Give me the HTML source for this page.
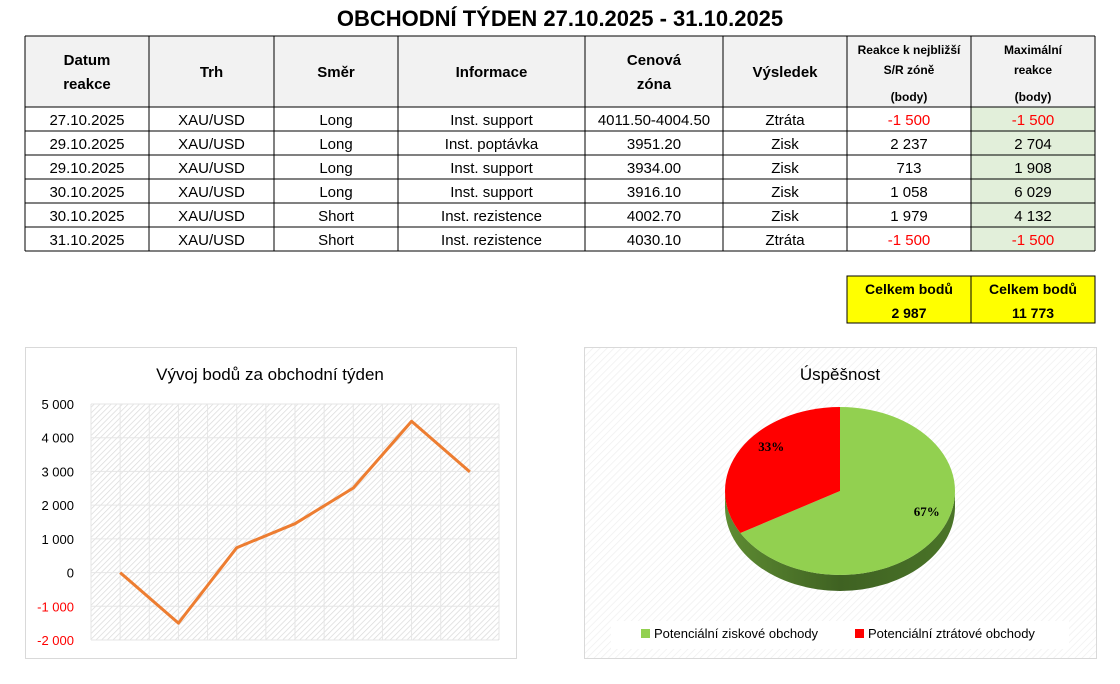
<!DOCTYPE html>
<html><head><meta charset="utf-8"><style>
body{margin:0;width:1120px;height:684px;background:#fff;overflow:hidden;font-family:"Liberation Sans",sans-serif}
svg{position:absolute;left:0;top:0}
</style></head><body>
<svg width="1120" height="684" xmlns="http://www.w3.org/2000/svg" font-family="Liberation Sans, sans-serif">
<defs>
<pattern id="hatch" width="4" height="4" patternUnits="userSpaceOnUse" patternTransform="rotate(45)">
<rect width="4" height="4" fill="#fff"/><line x1="0" y1="0" x2="0" y2="4" stroke="#d9d9d9" stroke-width="1.4"/></pattern>
<pattern id="hatch2" width="5" height="5" patternUnits="userSpaceOnUse" patternTransform="rotate(45)">
<rect width="5" height="5" fill="#fff"/><line x1="0" y1="0" x2="0" y2="5" stroke="#f0f0f0" stroke-width="1.5"/></pattern>
<linearGradient id="side" x1="0" x2="1"><stop offset="0" stop-color="#5e8c32"/><stop offset="0.5" stop-color="#3f6222"/><stop offset="1" stop-color="#4a7428"/></linearGradient>
</defs>
<text x="560" y="26" text-anchor="middle" font-size="22" font-weight="bold">OBCHODNÍ TÝDEN 27.10.2025 - 31.10.2025</text>
<g id="table"></g>
<g id="line"></g>
<g id="pie"></g>
</svg>
<script>
const NS='http://www.w3.org/2000/svg';
function mk(p,t,a,txt){const e=document.createElementNS(NS,t);for(const k in a)e.setAttribute(k,a[k]);if(txt!==undefined)e.textContent=txt;p.appendChild(e);return e;}
// ---- table ----
const T=document.getElementById('table');
const colX=[25,149,274,398,585,723,847,971,1095];
const rowY=[36,107,131,155,179,203,227,251];
const dates=['27.10.2025','29.10.2025','29.10.2025','30.10.2025','30.10.2025','31.10.2025'];
const dirs=['Long','Long','Long','Long','Short','Short'];
const infos=['Inst. support','Inst. poptávka','Inst. support','Inst. support','Inst. rezistence','Inst. rezistence'];
const zones=['4011.50-4004.50','3951.20','3934.00','3916.10','4002.70','4030.10'];
const results=['Ztráta','Zisk','Zisk','Zisk','Zisk','Ztráta'];
const reactions=[-1500,2237,713,1058,1979,-1500];
const maxReactions=[-1500,2704,1908,6029,4132,-1500];
function fmt(v){const s=Math.abs(v).toString().replace(/\B(?=(\d{3})+(?!\d))/g,' ');return (v<0?'-':'')+s;}
mk(T,'rect',{x:25,y:36,width:1070,height:71,fill:'#f2f2f2'});
mk(T,'rect',{x:971,y:107,width:124,height:144,fill:'#e2efda'});
const heads=[['Datum','reakce'],['Trh'],['Směr'],['Informace'],['Cenová','zóna'],['Výsledek']];
heads.forEach((h,i)=>{const cx=(colX[i]+colX[i+1])/2;
 if(h.length==1){const e=mk(T,'text',{x:cx,y:77,'text-anchor':'middle','font-size':15,'font-weight':'bold'},h[0]);}
 else{mk(T,'text',{x:cx,y:65,'text-anchor':'middle','font-size':15,'font-weight':'bold'},h[0]);mk(T,'text',{x:cx,y:89,'text-anchor':'middle','font-size':15,'font-weight':'bold'},h[1]);}
});
[[6,['Reakce k nejbližší','S/R zóně','(body)']],[7,['Maximální','reakce','(body)']]].forEach(([i,l])=>{const cx=(colX[i]+colX[i+1])/2;
 mk(T,'text',{x:cx,y:54,'text-anchor':'middle','font-size':12,'font-weight':'bold'},l[0]);
 mk(T,'text',{x:cx,y:74,'text-anchor':'middle','font-size':12,'font-weight':'bold'},l[1]);
 mk(T,'text',{x:cx,y:101,'text-anchor':'middle','font-size':12,'font-weight':'bold'},l[2]);});
for(let r=0;r<6;r++){const y=rowY[r+1]+18;
 const vals=[dates[r],'XAU/USD',dirs[r],infos[r],zones[r],results[r],fmt(reactions[r]),fmt(maxReactions[r])];
 vals.forEach((v,i)=>{const red=(i>=6&&String(v).startsWith('-'));
  const e=mk(T,'text',{x:(colX[i]+colX[i+1])/2,y:y,'text-anchor':'middle','font-size':15,fill:red?'#ff0000':'#000'},v);
  });}
rowY.forEach(y=>mk(T,'line',{x1:25,x2:1095,y1:y,y2:y,stroke:'#000','stroke-width':1}));
colX.forEach(x=>mk(T,'line',{x1:x,x2:x,y1:36,y2:251,stroke:'#000','stroke-width':1}));
// totals
mk(T,'rect',{x:847,y:276,width:248,height:47,fill:'#ffff00',stroke:'#000'});
mk(T,'line',{x1:971,x2:971,y1:276,y2:323,stroke:'#000'});
const tot1=reactions.reduce((a,b)=>a+b,0), tot2=maxReactions.reduce((a,b)=>a+b,0);
[[909,tot1],[1033,tot2]].forEach(([cx,v])=>{mk(T,'text',{x:cx,y:294,'text-anchor':'middle','font-size':14,'font-weight':'bold'},'Celkem bodů');
 const e=mk(T,'text',{x:cx,y:318,'text-anchor':'middle','font-size':14,'font-weight':'bold'},fmt(v));});
// ---- line chart ----
const L=document.getElementById('line');
const cumulative=[0,-1500,737,1450,2508,4487,2987];
const yTicks=[5000,4000,3000,2000,1000,0,-1000,-2000];
mk(L,'rect',{x:25.5,y:347.5,width:491,height:311,fill:'#fff',stroke:'#d9d9d9'});
mk(L,'text',{x:270,y:380,'text-anchor':'middle','font-size':17},'Vývoj bodů za obchodní týden');
const px0=91,px1=499,py0=404,py1=640,ymin=-2000,ymax=5000;
const Y=v=>py1-(v-ymin)/(ymax-ymin)*(py1-py0);
const ncol=14,cw=(px1-px0)/ncol;
const X=i=>px0+cw*(2*i+1);
mk(L,'rect',{x:px0,y:py0,width:px1-px0,height:py1-py0,fill:'url(#hatch)'});
for(let i=0;i<=ncol;i++)mk(L,'line',{x1:px0+i*cw,x2:px0+i*cw,y1:py0,y2:py1,stroke:'#e6e6e6'});
yTicks.forEach(t=>{mk(L,'line',{x1:px0,x2:px1,y1:Y(t),y2:Y(t),stroke:'#e6e6e6'});
 const e=mk(L,'text',{x:74,y:Y(t)+5,'text-anchor':'end','font-size':13,fill:t<0?'#ff0000':'#000'},fmt(t));
 });
const ln=mk(L,'polyline',{points:cumulative.map((v,i)=>X(i)+','+Y(v)).join(' '),fill:'none',stroke:'#ed7d31','stroke-width':3,'stroke-linejoin':'round'});

// ---- pie ----
const P=document.getElementById('pie');
const pieLabels=['Potenciální ziskové obchody','Potenciální ztrátové obchody'];
const pieValues=[4,2];
const pieColors=['#92d050','#ff0000'];
mk(P,'rect',{x:584.5,y:347.5,width:512,height:311,fill:'url(#hatch2)',stroke:'#d9d9d9'});
mk(P,'text',{x:840,y:380,'text-anchor':'middle','font-size':17},'Úspěšnost');
const cx=840,cy=491,rx=115,ry=84,dep=16;
const tot=pieValues.reduce((a,b)=>a+b,0);
const pt=(a,dy)=>[cx+rx*Math.sin(a),cy-ry*Math.cos(a)+(dy||0)];
mk(P,'path',{d:`M${cx-rx},${cy} A${rx},${ry} 0 0 0 ${cx+rx},${cy} L${cx+rx},${cy+dep} A${rx},${ry} 0 0 1 ${cx-rx},${cy+dep} Z`,fill:'url(#side)'});
let a0=0;
pieValues.forEach((v,i)=>{const a1=a0+v/tot*2*Math.PI;const p0=pt(a0),p1=pt(a1);const large=(a1-a0)>Math.PI?1:0;
 const s=mk(P,'path',{d:`M${cx},${cy} L${p0[0]},${p0[1]} A${rx},${ry} 0 ${large} 1 ${p1[0]},${p1[1]} Z`,fill:pieColors[i]});
 
 const am=(a0+a1)/2;const lp=[cx+rx*0.75*Math.sin(am),cy-ry*0.55*Math.cos(am)];
 const lt=mk(P,'text',{x:lp[0]+(i==0?12:6),y:lp[1]+(i==0?2:-17),'text-anchor':'middle','font-size':13,'font-weight':'bold','font-family':'Liberation Serif, serif'},Math.round(v/tot*100)+'%');
 
 a0=a1;});
mk(P,'rect',{x:611,y:621,width:458,height:28,fill:'#fff'});
[[641,0],[855,1]].forEach(([x,i])=>{mk(P,'rect',{x:x,y:629,width:9,height:9,fill:pieColors[i]});
 const e=mk(P,'text',{x:x+13,y:638,'font-size':13},pieLabels[i]);});
</script>
</body></html>
